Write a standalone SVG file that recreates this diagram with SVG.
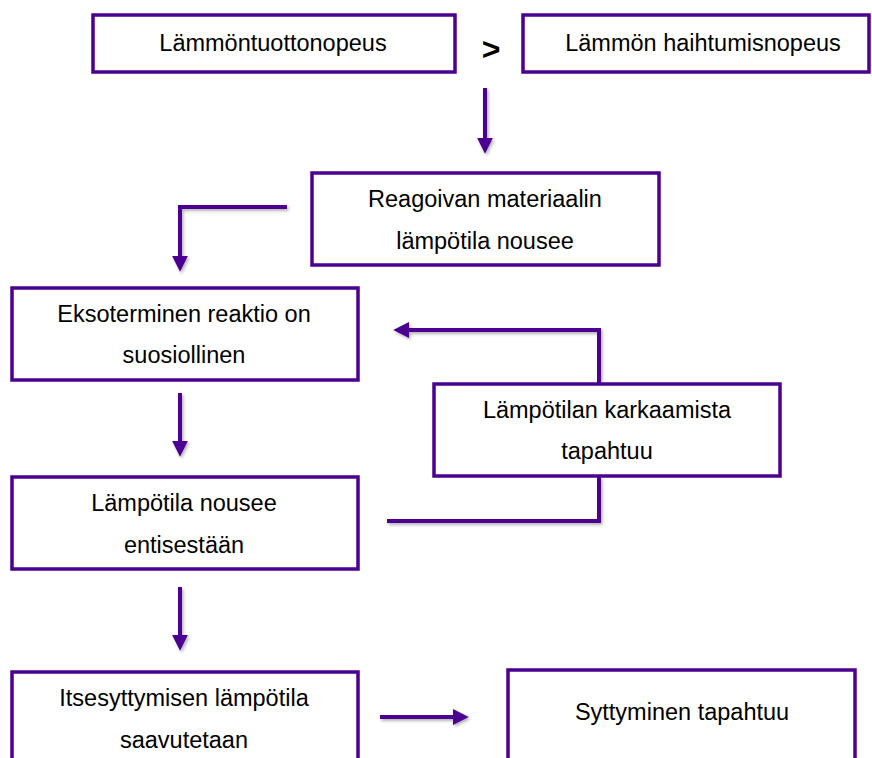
<svg xmlns="http://www.w3.org/2000/svg" width="872" height="758" viewBox="0 0 872 758">
<defs>
<style>
.box{fill:#fff;stroke:#4b0091;stroke-width:3.5}
.t{font-family:"Liberation Sans",Arial,sans-serif;font-size:23.5px;fill:#000;text-anchor:middle}
.c{fill:none;stroke:#4b0091;stroke-width:4;stroke-linejoin:miter}
</style>
<marker id="ah" viewBox="0 0 10 10" refX="2" refY="5" markerWidth="4" markerHeight="4" markerUnits="strokeWidth" orient="auto">
<path d="M0,0 L10,5 L0,10 Z" fill="#4b0091"/>
</marker>
<filter id="sh" x="-20%" y="-20%" width="140%" height="140%">
<feDropShadow dx="1.5" dy="2" stdDeviation="1.5" flood-color="#000" flood-opacity="0.3"/>
</filter>
</defs>
<rect width="872" height="758" fill="#fff"/>
<g id="connectors" filter="url(#sh)">
<path class="c" d="M485,88 V141" marker-end="url(#ah)"/>
<path class="c" d="M287,207 H180 V259" marker-end="url(#ah)"/>
<path class="c" d="M180,393 V444" marker-end="url(#ah)"/>
<path class="c" d="M599,383 V330 H406" marker-end="url(#ah)"/>
<path class="c" d="M599,477 V521 H387"/>
<path class="c" d="M180,587 V638" marker-end="url(#ah)"/>
<path class="c" d="M380,717 H456" marker-end="url(#ah)"/>
</g>
<g id="n1"><rect class="box" x="93" y="15" width="362" height="57"/><text class="t" x="273" y="51">Lämmöntuottonopeus</text></g>
<g id="gt"><text x="491" y="60" style="font-family:'Liberation Sans',Arial,sans-serif;font-size:32px;font-weight:bold;text-anchor:middle">&gt;</text></g>
<g id="n2"><rect class="box" x="523" y="15" width="346" height="57"/><text class="t" x="703" y="51">Lämmön haihtumisnopeus</text></g>
<g id="n3"><rect class="box" x="312" y="173" width="347" height="92"/><text class="t" x="485" y="207">Reagoivan materiaalin</text><text class="t" x="485" y="249">lämpötila nousee</text></g>
<g id="n4"><rect class="box" x="12" y="288" width="346" height="92"/><text class="t" x="184" y="322">Eksoterminen reaktio on</text><text class="t" x="184" y="363">suosiollinen</text></g>
<g id="n5"><rect class="box" x="434" y="384" width="346" height="92"/><text class="t" x="607" y="418">Lämpötilan karkaamista</text><text class="t" x="607" y="459">tapahtuu</text></g>
<g id="n6"><rect class="box" x="12" y="477" width="346" height="92"/><text class="t" x="184" y="511">Lämpötila nousee</text><text class="t" x="184" y="553">entisestään</text></g>
<g id="n7"><rect class="box" x="12" y="672" width="346" height="100"/><text class="t" x="184" y="706">Itsesyttymisen lämpötila</text><text class="t" x="184" y="748">saavutetaan</text></g>
<g id="n8"><rect class="box" x="508" y="670" width="347" height="100"/><text class="t" x="682" y="720">Syttyminen tapahtuu</text></g>
</svg>
